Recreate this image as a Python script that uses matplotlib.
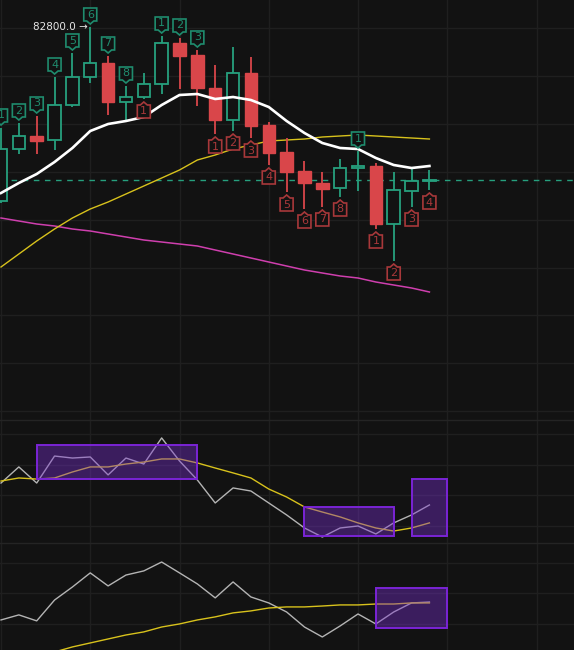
import numpy as np
import matplotlib
matplotlib.use("Agg")
import matplotlib.pyplot as plt
import matplotlib.transforms as mtransforms
from matplotlib.patches import Polygon, Rectangle

# ---------------- data ----------------
opens  = [81060, 81580, 81710, 81670, 82020, 82300, 82440, 82050, 82100, 82230,
          82640, 82520, 82190, 81870, 82340, 81820, 81550, 81360, 81240, 81190,
          81390, 81410, 80830, 81160, 81260]
highs  = [81790, 81840, 81910, 82300, 82540, 82800, 82510, 82210, 82340, 82710,
          82690, 82570, 82420, 82600, 82500, 81850, 81690, 81460, 81350, 81480,
          81560, 81440, 81350, 81390, 81370]
lows   = [81040, 81530, 81530, 81570, 82000, 82240, 81920, 81850, 82080, 82130,
          82180, 82010, 81730, 81760, 81690, 81420, 81150, 80980, 81000, 81100,
          81160, 80780, 80460, 81000, 81170]
closes = [81580, 81710, 81660, 82020, 82300, 82440, 82050, 82100, 82230, 82640,
          82510, 82190, 81870, 82340, 81810, 81540, 81350, 81240, 81180, 81390,
          81410, 80830, 81170, 81260, 81270]

ma_white   = [81140, 81240, 81330, 81450, 81590, 81760, 81830, 81860, 81900, 82020,
              82120, 82130, 82080, 82100, 82070, 82000, 81860, 81740, 81640, 81590,
              81580, 81490, 81420, 81390, 81410]
ma_yellow  = [80400, 80530, 80660, 80780, 80890, 80980, 81050, 81130, 81210, 81290,
              81370, 81470, 81520, 81580, 81620, 81660, 81670, 81680, 81700, 81710,
              81720, 81710, 81700, 81690, 81680]
ma_magenta = [80890, 80860, 80830, 80810, 80780, 80760, 80730, 80700, 80670, 80650,
              80630, 80610, 80570, 80530, 80490, 80450, 80410, 80370, 80340, 80310,
              80290, 80250, 80220, 80190, 80150]

# sequential count labels: (candle index, text)
up_labels = [(0, "1"), (1, "2"), (2, "3"), (3, "4"), (4, "5"), (5, "6"), (6, "7"),
             (7, "8"), (9, "1"), (10, "2"), (11, "3"), (20, "1")]
dn_labels = [(8, "1"), (12, "1"), (13, "2"), (14, "3"), (15, "4"), (16, "5"),
             (17, "6"), (18, "7"), (19, "8"), (21, "1"), (22, "2"), (23, "3"), (24, "4")]
high_label = "82800.0 →"

osc1_gray   = [48.0, 58.5, 48.0, 65.6, 64.3, 65.0, 53.3, 64.3, 60.4, 77.4,
               62.4, 50.0, 35.0, 44.8, 42.8, 35.0, 27.2, 18.7, 12.8, 18.7,
               20.0, 14.8, 22.0, 27.2, 33.7]
osc1_yellow = [49.3, 51.3, 50.6, 51.3, 55.2, 58.5, 58.5, 60.4, 61.7, 63.7,
               63.7, 61.1, 57.8, 54.6, 51.3, 44.1, 38.9, 32.4, 29.1, 25.9,
               22.0, 18.7, 16.7, 18.7, 22.0]
# boxes: (start index, end index, low value, high value)
osc1_boxes = [(2, 11, 50.6, 72.8), (17, 22, 13.5, 32.4), (23, 25, 13.5, 50.6)]

osc2_gray   = [22.6, 25.9, 22.0, 35.6, 44.1, 53.3, 44.8, 51.9, 54.6, 60.4,
               53.3, 46.1, 37.0, 47.4, 37.6, 33.7, 27.8, 18.0, 11.5, 18.7,
               26.5, 20.0, 27.8, 33.7, 34.3]
osc2_yellow = [-8.0, -4.8, -1.5, 1.7, 5.0, 7.6, 10.2, 12.8, 14.8, 18.0,
               20.0, 22.6, 24.6, 27.2, 28.5, 30.4, 31.1, 31.1, 31.7, 32.4,
               32.4, 33.0, 33.0, 33.7, 33.7]
osc2_boxes = [(21, 25, 17.4, 43.5)]

# ---------------- style ----------------
BG = "#121212"
GRID = "#1f1f1f"
GREEN = "#26a07e"
GREEN_LBL = "#1f8c6e"
RED = "#d9464a"
RED_LBL = "#a8383a"
YELLOW = "#d8c21c"
MAGENTA = "#cf3fae"
GRAY = "#b4b4b4"
PURPLE_EDGE = "#7a24d6"
PURPLE_FILL = (0.48, 0.19, 0.82, 0.40)

W, H, DPI = 574, 650, 100
fig = plt.figure(figsize=(W / DPI, H / DPI), dpi=DPI, facecolor=BG)

def px(v):
    return v / DPI

ax = fig.add_axes([0, (H - 420) / H, 1, 420 / H])
ax1 = fig.add_axes([0, (H - 543) / H, 1, 123 / H], sharex=ax)
ax2 = fig.add_axes([0, 0, 1, 107 / H], sharex=ax)

n = len(opens)
xs = np.arange(n)
XLIM = (-0.056, 32.1)

for a in (ax, ax1, ax2):
    a.set_facecolor(BG)
    for s in a.spines.values():
        s.set_visible(False)
    a.tick_params(left=False, bottom=False, labelleft=False, labelbottom=False)
    a.set_xticks(np.arange(0, 35, 5))
    a.grid(True, color=GRID, linewidth=1.0)
    a.set_axisbelow(True)

for a in (ax1, ax2):
    a.spines["top"].set_visible(True)
    a.spines["top"].set_color("#242424")
    a.spines["top"].set_linewidth(1.0)

# ---- main panel ----
ax.set_yticks(82790 - 479 * np.arange(0, 9))
ax.set_ylim(78870, 83070)

ax.plot(xs, ma_magenta, color=MAGENTA, lw=1.1, zorder=2)
ax.plot(xs, ma_yellow, color=YELLOW, lw=1.0, zorder=2)

bw = 0.7
for i in range(n):
    o, h, l, c = opens[i], highs[i], lows[i], closes[i]
    up = c >= o
    col = GREEN if up else RED
    ax.plot([i, i], [l, h], color=col, lw=1.3, zorder=3, solid_capstyle="butt")
    lo, hi = min(o, c), max(o, c)
    if up:
        ax.add_patch(Rectangle((i - bw / 2, lo), bw, max(hi - lo, 15),
                               facecolor=BG, edgecolor=col, lw=1.3, zorder=4))
    else:
        ax.add_patch(Rectangle((i - bw / 2, lo), bw, max(hi - lo, 15),
                               facecolor=col, edgecolor=col, lw=1.0, zorder=4))

ax.plot(xs, ma_white, color="white", lw=1.9, zorder=5)

ax.axhline(closes[-1], color=GREEN, lw=1.0, ls=(0, (4, 4)), zorder=1)

def label_box(i, text, side):
    g, bh, bwid, ph, pw = 3, 13, 13, 3, 3.5
    if side == "up":
        anchor = highs[i]
        col = GREEN_LBL
        s = 1
    else:
        anchor = lows[i]
        col = RED_LBL
        s = -1
    verts = [(0, s * g), (-pw, s * (g + ph)), (-bwid / 2, s * (g + ph)),
             (-bwid / 2, s * (g + ph + bh)), (bwid / 2, s * (g + ph + bh)),
             (bwid / 2, s * (g + ph)), (pw, s * (g + ph))]
    verts = [(px(a), px(b)) for a, b in verts]
    tr = fig.dpi_scale_trans + mtransforms.ScaledTranslation(i, anchor, ax.transData)
    ax.add_patch(Polygon(verts, closed=True, transform=tr, facecolor=BG,
                         edgecolor=col, lw=1.2, zorder=6, clip_on=True))
    cy = s * (g + ph + bh / 2)
    ax.annotate(text, xy=(i, anchor), xytext=(0, cy * 72 / DPI),
                textcoords="offset points", ha="center", va="center",
                color=col, fontsize=8, zorder=7, annotation_clip=True)

for i, t in up_labels:
    label_box(i, t, "up")
for i, t in dn_labels:
    label_box(i, t, "dn")

imax = int(np.argmax(highs))
ax.annotate(high_label, xy=(imax, highs[imax]), xytext=(-3 * 72 / DPI, 0),
            textcoords="offset points", ha="right", va="center",
            color="#e6e6e6", fontsize=7.5, zorder=7)

# ---- oscillator 1 ----
ax1.set_yticks([20, 40, 60, 80])
ax1.set_ylim(8.9, 89.1)
ax1.plot(xs, osc1_gray, color=GRAY, lw=1.0, zorder=2)
ax1.plot(xs, osc1_yellow, color=YELLOW, lw=1.0, zorder=2)
for x0, x1, lo, hi in osc1_boxes:
    ax1.add_patch(Rectangle((x0, lo), x1 - x0, hi - lo, facecolor=PURPLE_FILL,
                            edgecolor=PURPLE_EDGE, lw=1.4, zorder=3))

# ---- oscillator 2 ----
ax2.set_yticks([20, 40, 60])
ax2.set_ylim(3.0, 72.8)
ax2.plot(xs, osc2_gray, color=GRAY, lw=1.0, zorder=2)
ax2.plot(xs, osc2_yellow, color=YELLOW, lw=1.0, zorder=2)
for x0, x1, lo, hi in osc2_boxes:
    ax2.add_patch(Rectangle((x0, lo), x1 - x0, hi - lo, facecolor=PURPLE_FILL,
                            edgecolor=PURPLE_EDGE, lw=1.4, zorder=3))

ax.set_xlim(*XLIM)

fig.savefig("out.png", dpi=DPI, facecolor=BG)
